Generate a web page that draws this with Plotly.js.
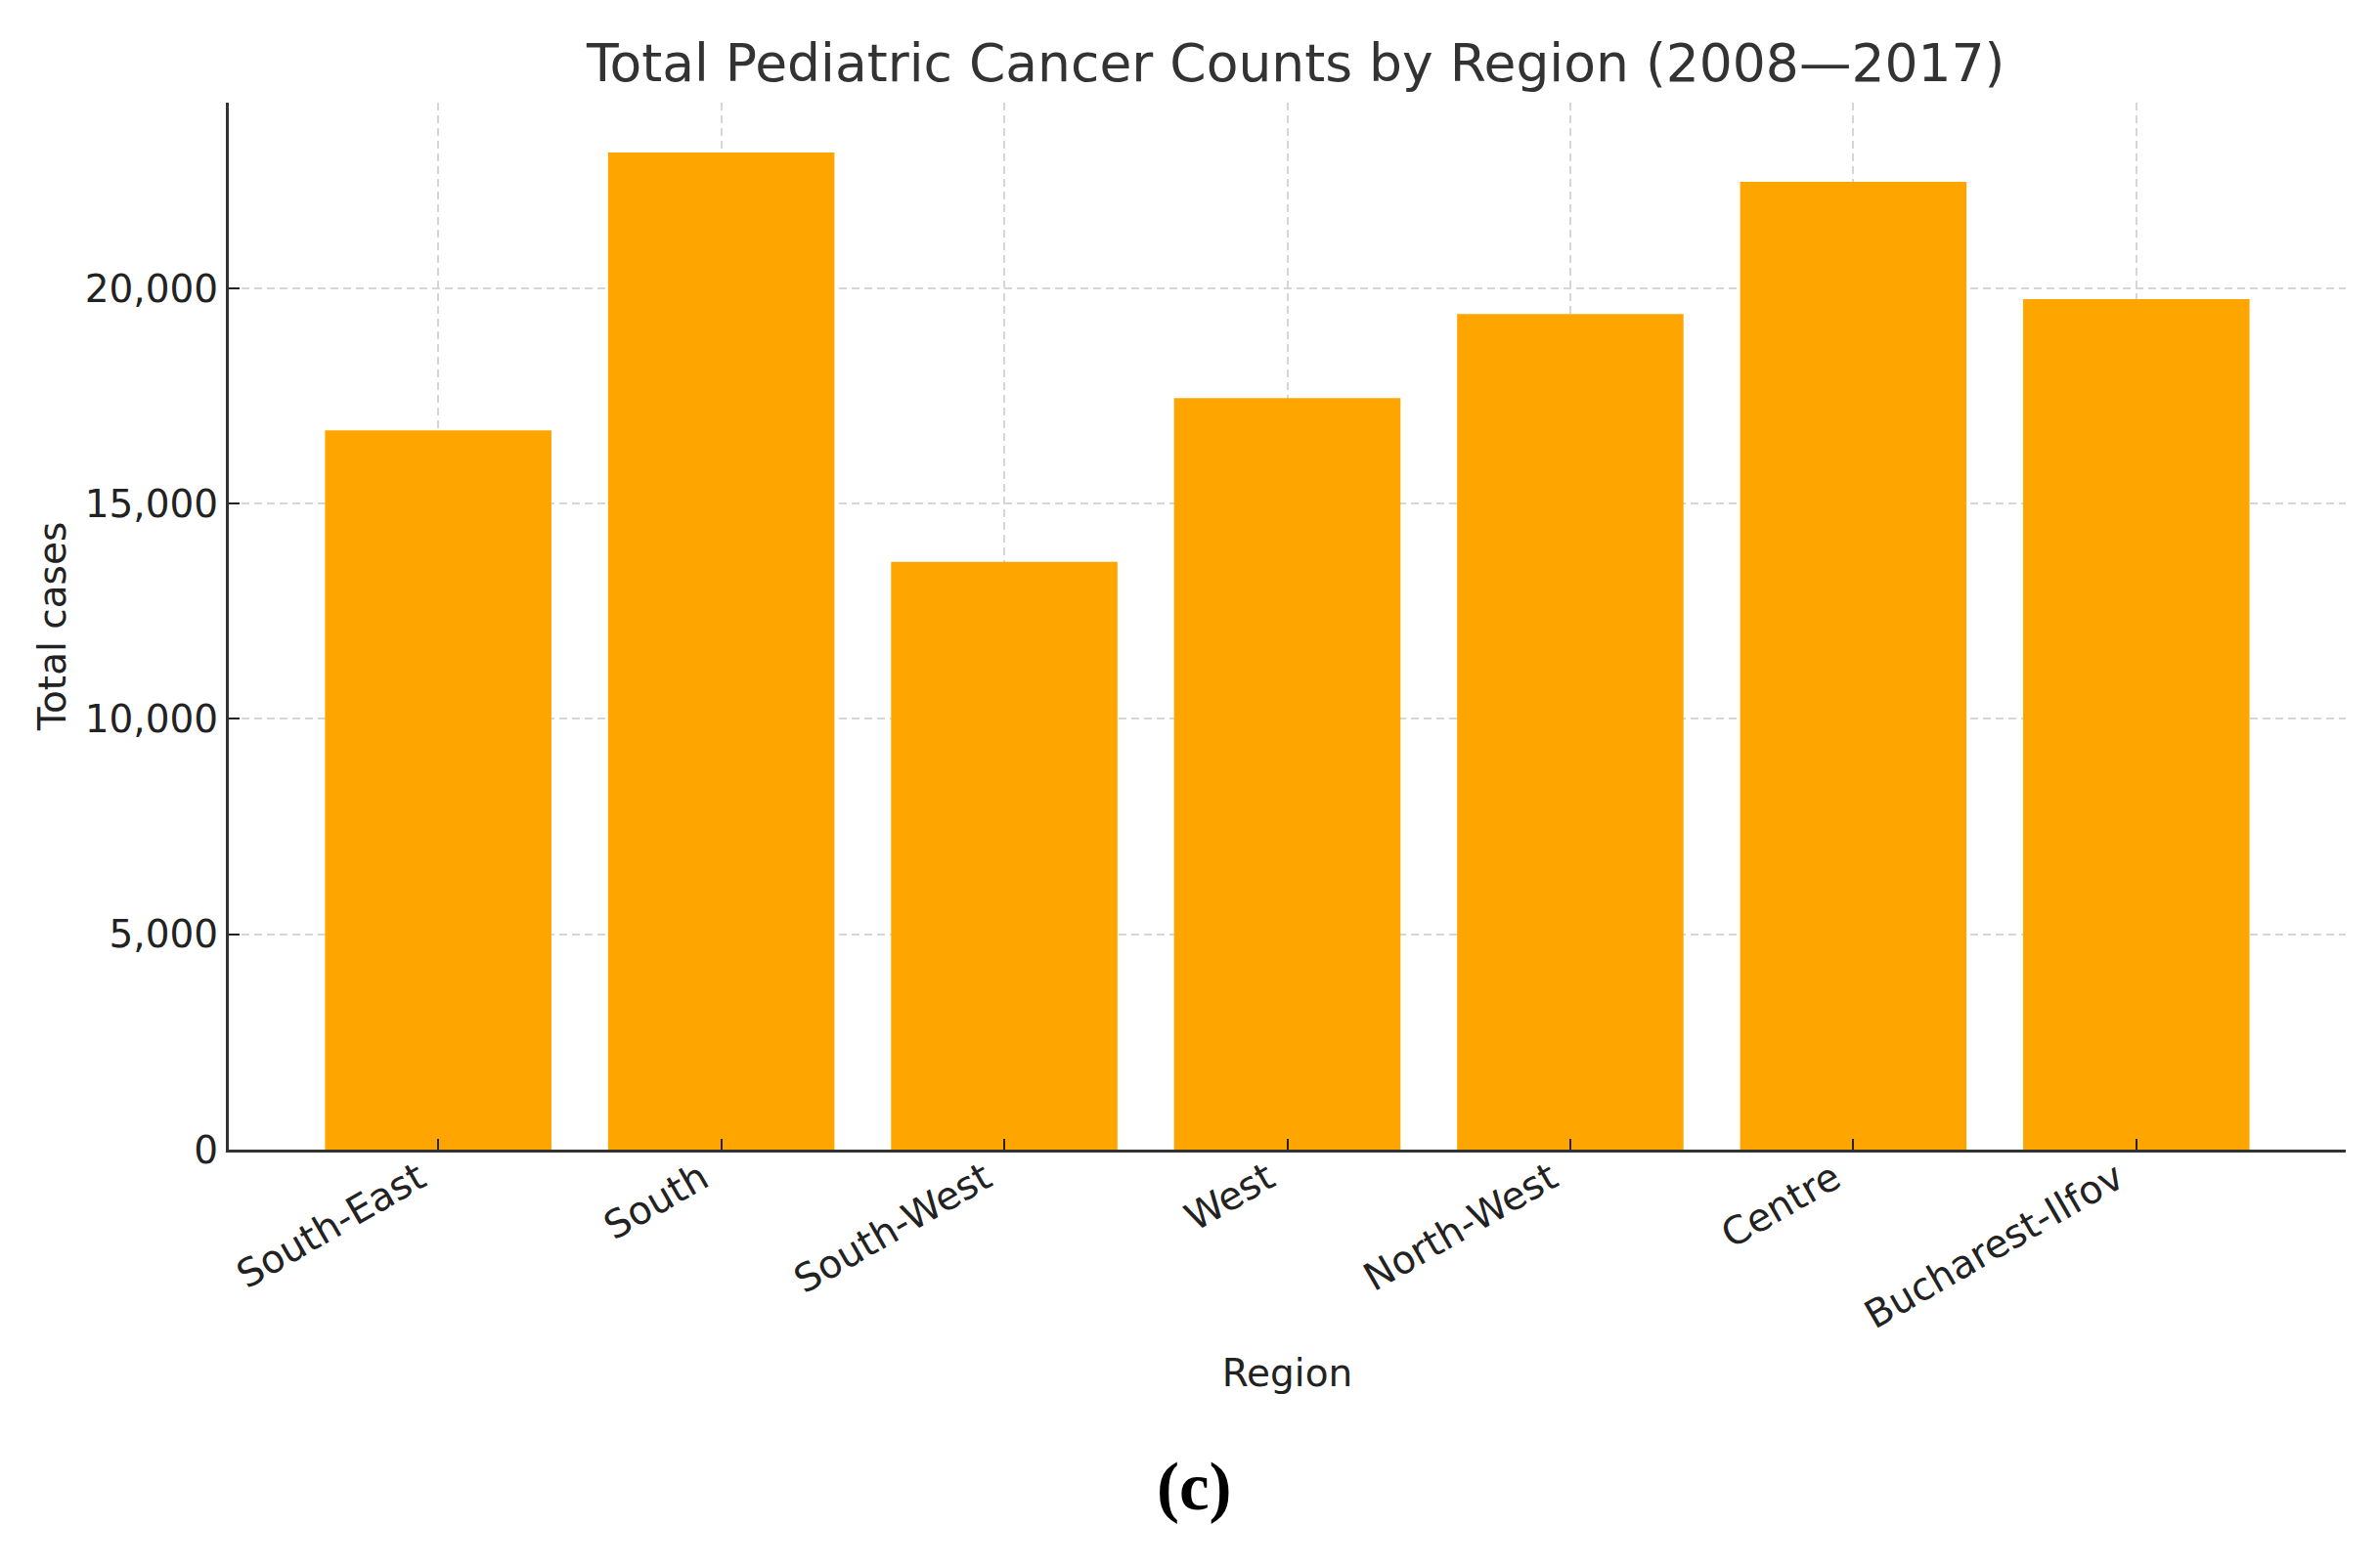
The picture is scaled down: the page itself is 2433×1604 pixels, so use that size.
<!DOCTYPE html>
<html>
<head>
<meta charset="utf-8">
<script src="https://cdn.plot.ly/plotly-3.0.1.min.js"></script>
<style>html,body{margin:0;padding:0;background:#fff;}#chart{width:2433px;height:1604px;}</style>
</head>
<body>
<div id="chart"></div>
<script>
const regions = ["South-East", "South", "South-West", "West", "North-West", "Centre", "Bucharest-Ilfov"];
const totals = [16700, 23150, 13650, 17450, 19400, 22470, 19750];
const yTickVals = [0, 5000, 10000, 15000, 20000];

const trace = {
  type: 'bar',
  x: regions,
  y: totals,
  marker: {color: '#FFA500', line: {width: 0}},
  hoverinfo: 'x+y'
};

const layout = {
  width: 2433,
  height: 1604,
  paper_bgcolor: '#ffffff',
  plot_bgcolor: '#ffffff',
  margin: {l: 234, r: 34, t: 105, b: 428},
  bargap: 0.2,
  showlegend: false,
  font: {family: 'DejaVu Sans, sans-serif', color: '#222222'},
  title: {
    text: 'Total Pediatric Cancer Counts by Region (2008\u20142017)',
    font: {family: 'DejaVu Sans, sans-serif', size: 53.5, color: '#333333'},
    x: 0.504, xref: 'paper', xanchor: 'center',
    y: 1 - 64 / 1604, yref: 'container', yanchor: 'middle'
  },
  xaxis: {
    type: 'category',
    range: [-0.74, 6.74],
    showline: true, linecolor: '#333333', linewidth: 3,
    ticks: 'inside', ticklen: 11, tickwidth: 2, tickcolor: '#222222',
    tickangle: -30,
    ticklabelshift: -20,
    ticklabelstandoff: -12,
    tickfont: {family: 'DejaVu Sans, sans-serif', size: 39.5, color: '#222222'},
    showgrid: true, gridcolor: '#d6d6d6', gridwidth: 2, griddash: '8px,5px',
    zeroline: false,
    automargin: false,
    title: {text: 'Region', font: {family: 'DejaVu Sans, sans-serif', size: 39, color: '#222222'}, standoff: 24}
  },
  yaxis: {
    range: [0, 24310],
    tickvals: yTickVals,
    tickformat: ',',
    showline: true, linecolor: '#333333', linewidth: 3,
    ticks: 'inside', ticklen: 11, tickwidth: 2, tickcolor: '#222222',
    tickfont: {family: 'DejaVu Sans, sans-serif', size: 39, color: '#222222'},
    showgrid: true, gridcolor: '#d6d6d6', gridwidth: 2, griddash: '8px,5px',
    zeroline: false,
    automargin: false,
    title: {text: 'Total cases', font: {family: 'DejaVu Sans, sans-serif', size: 39, color: '#222222'}, standoff: 8}
  },
  annotations: [{
    text: '<b>(c)</b>',
    xref: 'paper', yref: 'paper',
    x: (1221 - 234) / 2165, y: (1176 - 1521) / 1071,
    xanchor: 'center', yanchor: 'middle',
    showarrow: false,
    font: {family: 'Liberation Serif, serif', size: 69, color: '#000000'}
  }]
};

Plotly.newPlot('chart', [trace], layout, {staticPlot: true, displayModeBar: false});
</script>
</body>
</html>
